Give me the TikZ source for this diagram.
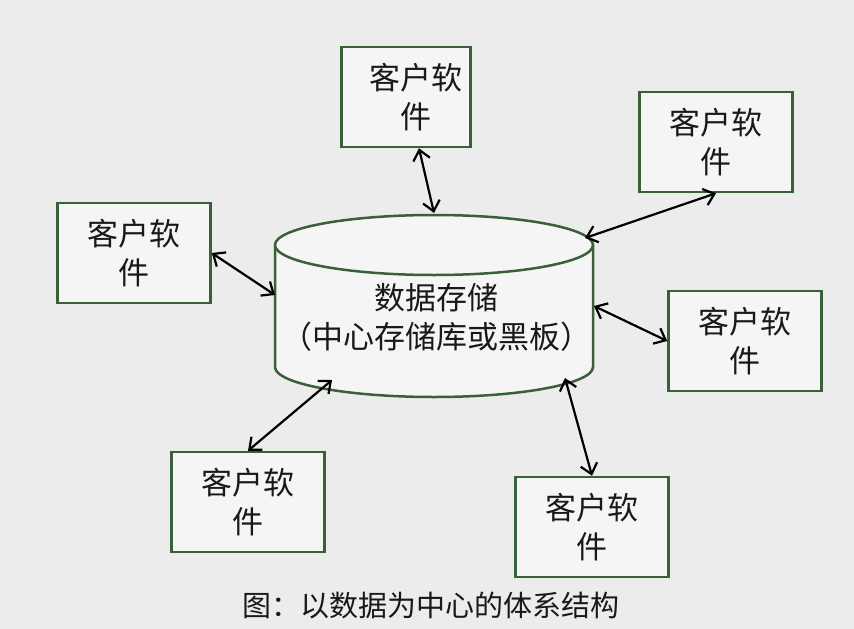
\documentclass[tikz,border=0pt]{standalone}
\usepackage{fontspec}
\newfontfamily\cjk{Noto Sans CJK SC}
\usepackage{tikz}
\usetikzlibrary{arrows.meta}

\definecolor{bggray}{RGB}{236,236,236}
\definecolor{boxfill}{RGB}{245,245,245}
\definecolor{boxgreen}{RGB}{58,96,58}

\begin{document}
\begin{tikzpicture}[
    x=1pt, y=-1pt,
    every node/.style={font=\cjk\fontsize{31}{39}\selectfont, text=black!90},
    client/.style={rectangle, draw=boxgreen, line width=2.5pt, fill=boxfill, minimum width=153pt, minimum height=100pt, align=center},
    arrow/.style={{Straight Barb[length=10pt,width=17pt]}-{Straight Barb[length=10pt,width=17pt]}, line width=2.2pt}
]
\fill[bggray] (0,0) rectangle (854,629);
\useasboundingbox (0,0) rectangle (854,629);

% data store
\filldraw[fill=boxfill, draw=boxgreen, line width=2.5pt] (275,245) -- (275,367) arc[start angle=180, end angle=0, x radius=159, y radius=30] -- (593,245);
\filldraw[fill=boxfill, draw=boxgreen, line width=2.5pt] (434,245) ellipse [x radius=159, y radius=30];
\node[align=center] (store) at (436,317) {数据存储\\（中心存储库或黑板）};

\coordinate (dtop) at (434,213);
\coordinate (dtopr) at (585,238);
\coordinate (dleft) at (275,295);
\coordinate (dright) at (594,306);
\coordinate (dbotl) at (332,380);
\coordinate (dbotr) at (565,378);

% clients
\node[client, minimum width=129pt] (ctop) at (406,97) {\hspace*{20pt}客户软\\\hspace*{20pt}件};
\node[client] (ctopr) at (716,142) {客户软\\件};
\node[client] (cleft) at (134,253) {客户软\\件};
\node[client] (cright) at (745,341) {客户软\\件};
\node[client] (cbotl) at (248,502) {客户软\\件};
\node[client] (cbotr) at (592,527) {客户软\\件};

\draw[arrow] ([xshift=13pt]ctop.south) -- (dtop);
\draw[arrow] (ctopr.south) -- (dtopr);
\draw[arrow] (cleft.east) -- (dleft);
\draw[arrow] (cright.west) -- (dright);
\draw[arrow] (cbotl.north) -- (dbotl);
\draw[arrow] (cbotr.north) -- (dbotr);

\node[font=\cjk\fontsize{29}{35}\selectfont] (caption) at (431,606) {图：以数据为中心的体系结构};
\end{tikzpicture}
\end{document}
